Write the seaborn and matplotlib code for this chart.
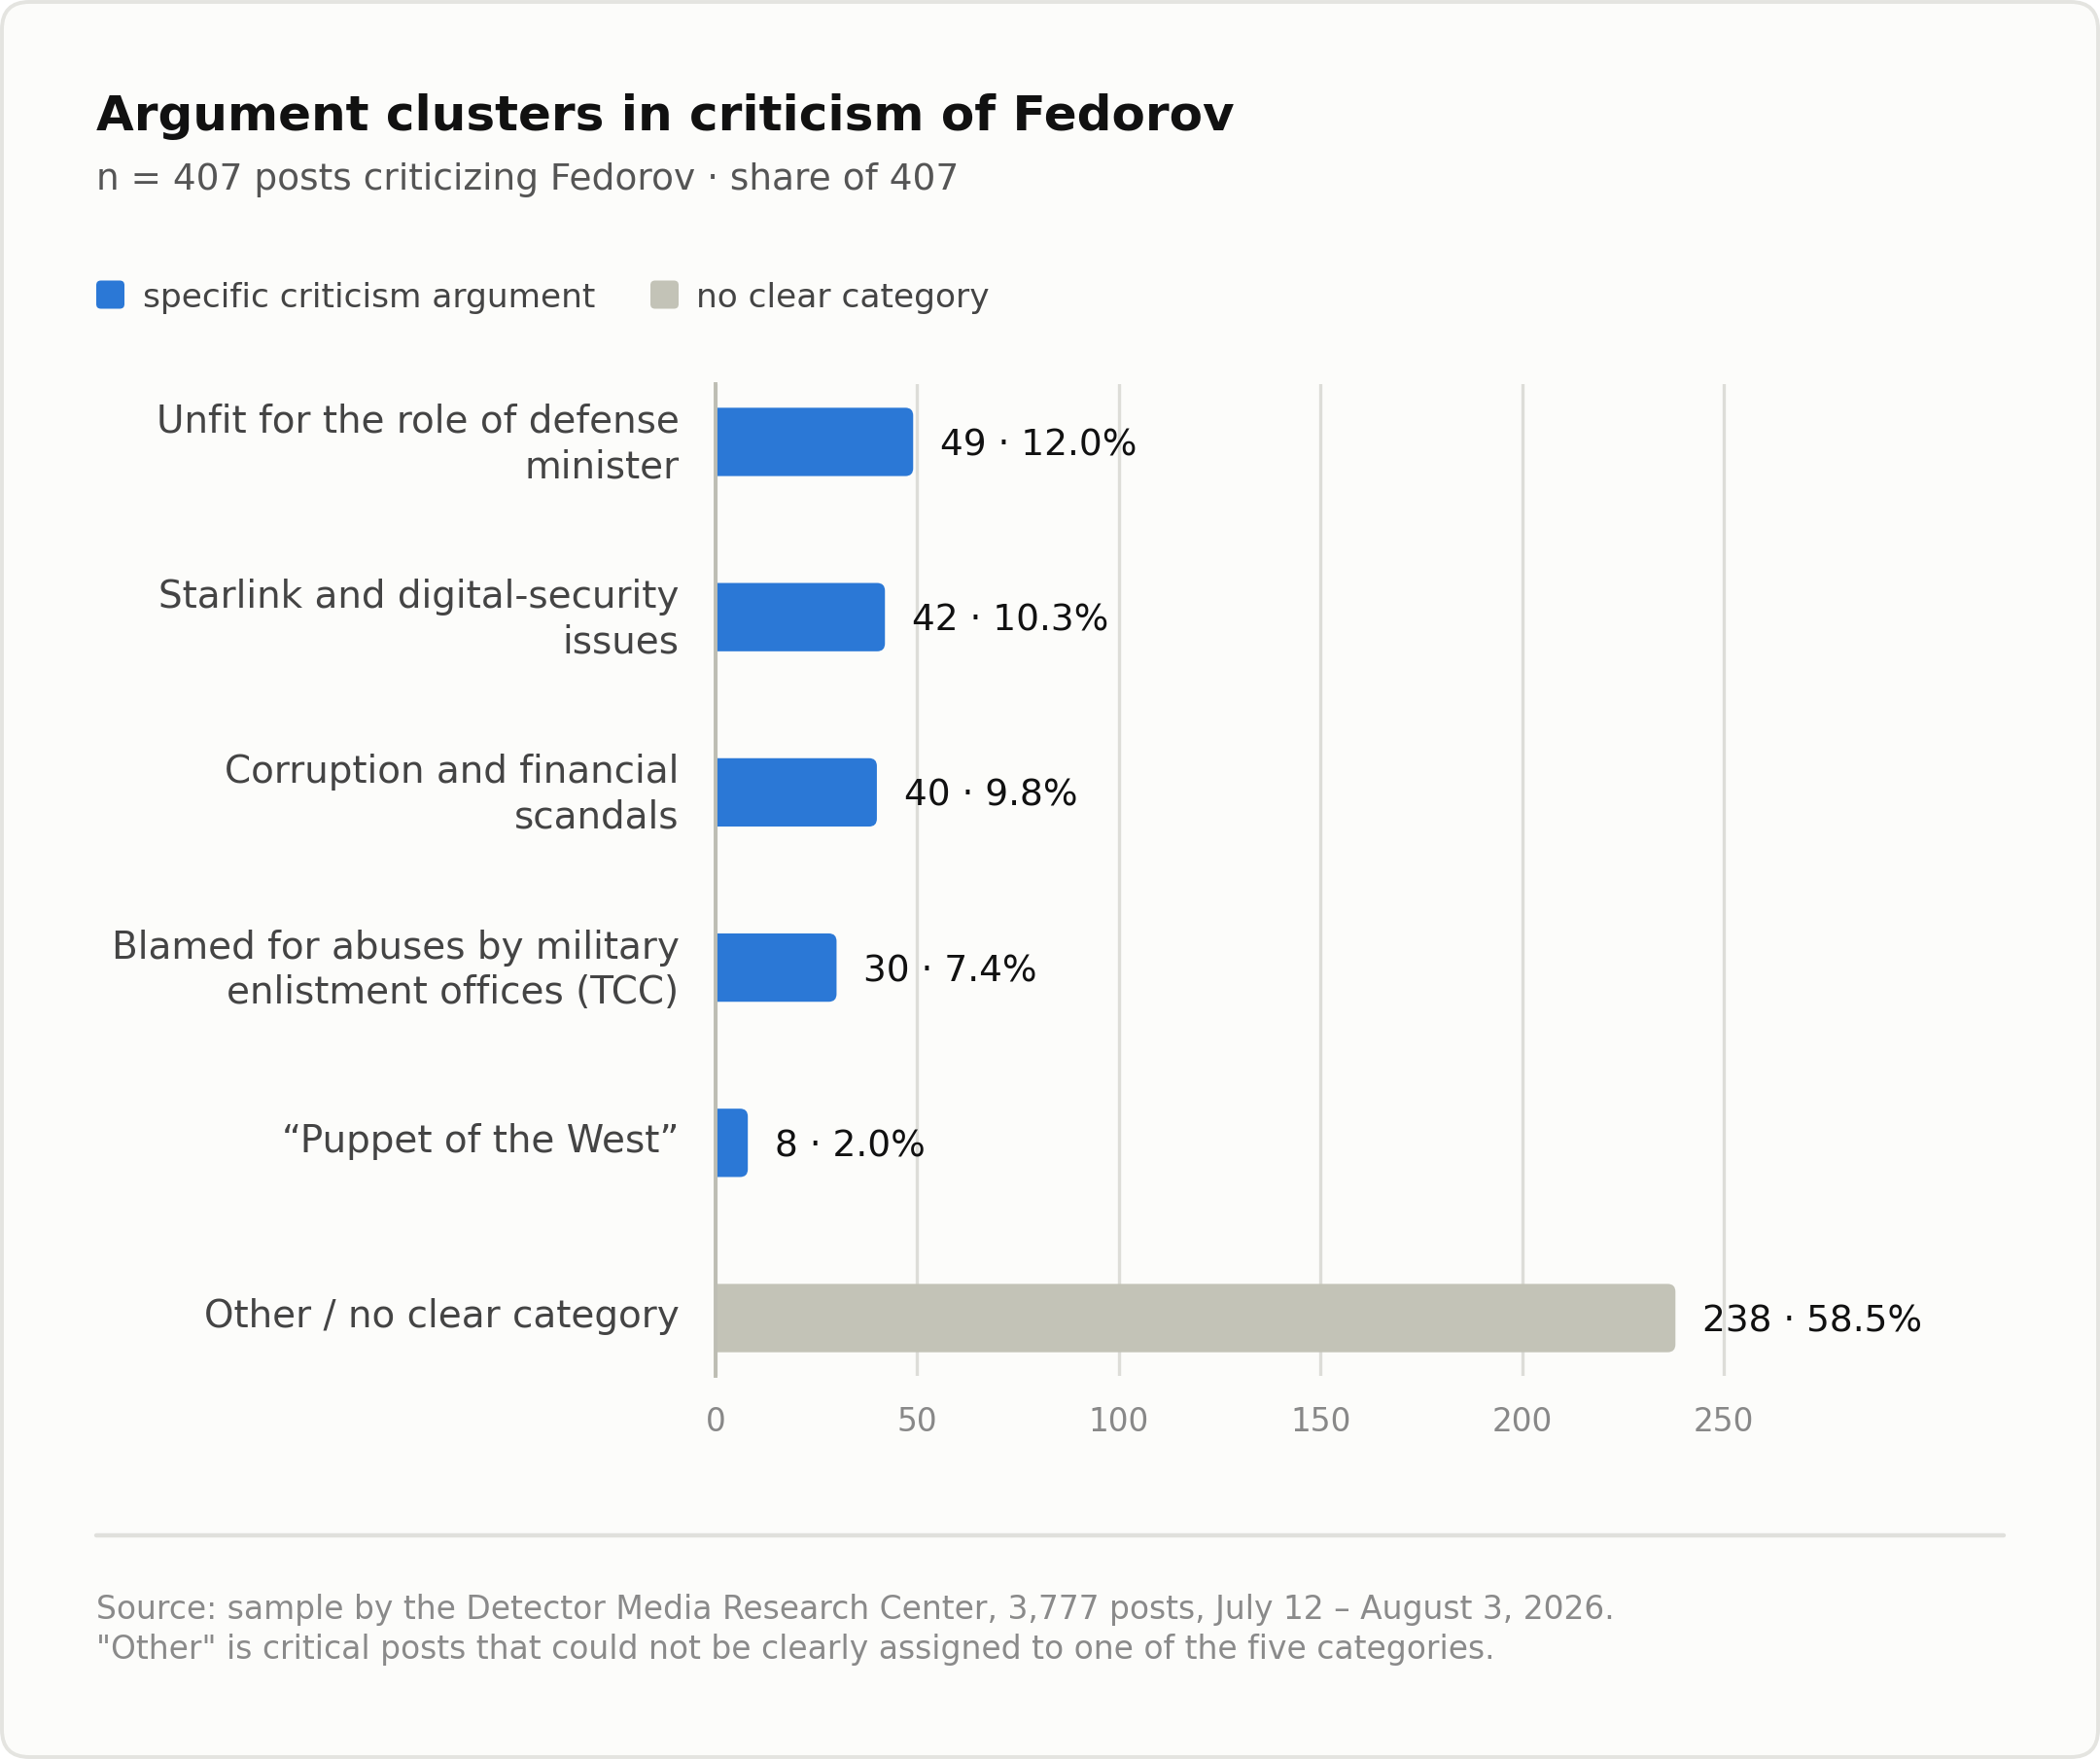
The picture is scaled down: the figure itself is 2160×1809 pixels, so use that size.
import numpy as np
import pandas as pd
import seaborn as sns
import matplotlib
matplotlib.use("Agg")
import matplotlib.pyplot as plt
import matplotlib.transforms as mtransforms
from matplotlib.patches import FancyBboxPatch

# ---- data ----
categories = [
    "Unfit for the role of defense\nminister",
    "Starlink and digital-security\nissues",
    "Corruption and financial\nscandals",
    "Blamed for abuses by military\nenlistment offices (TCC)",
    "\u201cPuppet of the West\u201d",
    "Other / no clear category",
]
counts = [49, 42, 40, 30, 8, 238]
shares = [12.0, 10.3, 9.8, 7.4, 2.0, 58.5]
groups = ["specific criticism argument"] * 5 + ["no clear category"]
x_ticks = [0, 50, 100, 150, 200, 250]

title = "Argument clusters in criticism of Fedorov"
subtitle = "n = 407 posts criticizing Fedorov \u00b7 share of 407"
footer = ("Source: sample by the Detector Media Research Center, 3,777 posts, July 12 \u2013 August 3, 2026.\n"
          "\"Other\" is critical posts that could not be clearly assigned to one of the five categories.")

BLUE = "#2B78D6"
GREY = "#C3C3B7"
palette = {"specific criticism argument": BLUE, "no clear category": GREY}

df = pd.DataFrame({"category": categories, "count": counts, "group": groups})

sns.set_theme(style="white")
plt.rcParams["font.family"] = ["DejaVu Sans"]

W, H, DPI = 2160, 1809, 200
fig = plt.figure(figsize=(W / DPI, H / DPI), dpi=DPI)
fig.patch.set_facecolor("#FFFFFF")

# card background
card = FancyBboxPatch((2 / W, 2 / H), 1 - 4 / W, 1 - 4 / H,
                      boxstyle="round,pad=0,rounding_size=0.013",
                      mutation_aspect=W / H,
                      transform=fig.transFigure, facecolor="#FCFCFA",
                      edgecolor="#E4E4E0", linewidth=1.4, zorder=-10)
fig.patches.append(card)

ax = fig.add_axes([736 / W, 1 - 1415 / H, (1939 - 736) / W, (1415 - 395) / H])
ax.set_facecolor("none")

sns.barplot(data=df, y="category", x="count", hue="group", palette=palette,
            dodge=False, width=0.39, legend=False, ax=ax, orient="h",
            saturation=1)

ax.set_xlim(0, 290)
ax.set_ylim(5.33, -0.33)

# rounded bars
px_per_x = (1773 - 736) / 250.0
px_per_y = 180.0
r_px = 8.0
rx = r_px / px_per_x
ry = r_px / px_per_y
for p in list(ax.patches):
    x0, y0 = p.get_x(), p.get_y()
    w, h = p.get_width(), p.get_height()
    if w <= 0 or np.isnan(w):
        continue
    fc = p.get_facecolor()
    p.set_visible(False)
    rb = FancyBboxPatch((x0 - 3 * rx, y0), w + 3 * rx, h,
                        boxstyle=f"round,pad=0,rounding_size={rx}",
                        mutation_aspect=ry / rx, facecolor=fc,
                        edgecolor="none", zorder=3)
    ax.add_patch(rb)

# value labels
for i, (c, s) in enumerate(zip(counts, shares)):
    ax.annotate(f"{c} \u00b7 {s:.1f}%", xy=(c, i), xytext=(10, 0),
                textcoords="offset points", va="center_baseline", ha="left",
                fontsize=13.5, color="#111111")

ax.set_xticks(x_ticks)
ax.xaxis.grid(True, color="#DDDDD8", linewidth=1.2)
ax.set_axisbelow(True)
for s in ["top", "right", "bottom"]:
    ax.spines[s].set_visible(False)
ax.spines["left"].set_color("#BDBDB3")
ax.spines["left"].set_linewidth(1.4)
ax.spines["left"].set_zorder(4)
ax.tick_params(axis="x", length=0, pad=11.2, labelsize=11.8, labelcolor="#888888")
ax.tick_params(axis="y", length=0, pad=13.5, labelsize=14, labelcolor="#444444")
shift = mtransforms.ScaledTranslation(0, 2.0 / 72, fig.dpi_scale_trans)
for t in ax.get_yticklabels():
    t.set_linespacing(1.28)
    t.set_transform(t.get_transform() + shift)
ax.set_xlabel("")
ax.set_ylabel("")

# titles
fig.text(99 / W, 1 - 134 / H, title, fontsize=18, fontweight="bold",
         color="#111111", ha="left", va="baseline")
fig.text(99 / W, 1 - 195 / H, subtitle, fontsize=13.5, color="#555555",
         ha="left", va="baseline")

# legend
leg_y = 1 - 303 / H
sq = 29
for lx, tx, lab in [(99, 147, groups[0]), (669, 716, groups[-1])]:
    fig.patches.append(FancyBboxPatch((lx / W, leg_y - (sq / 2) / H), sq / W, sq / H,
                                      boxstyle="round,pad=0,rounding_size=0.0022",
                                      mutation_aspect=W / H,
                                      transform=fig.transFigure,
                                      facecolor=palette[lab], edgecolor="none"))
    fig.text(tx / W, leg_y, lab, fontsize=12.4, color="#444444",
             ha="left", va="center_baseline")

# footer rule and text
fig.add_artist(plt.Line2D([99 / W, 2061 / W], [1 - 1579 / H, 1 - 1579 / H],
                          transform=fig.transFigure, color="#E0E0DC", linewidth=1.6))
fig.text(99 / W, 1 - 1676 / H, footer, fontsize=11.85, color="#8A8A8A",
         ha="left", va="center", linespacing=1.27)

fig.savefig("out.png", dpi=DPI, facecolor=fig.get_facecolor())
